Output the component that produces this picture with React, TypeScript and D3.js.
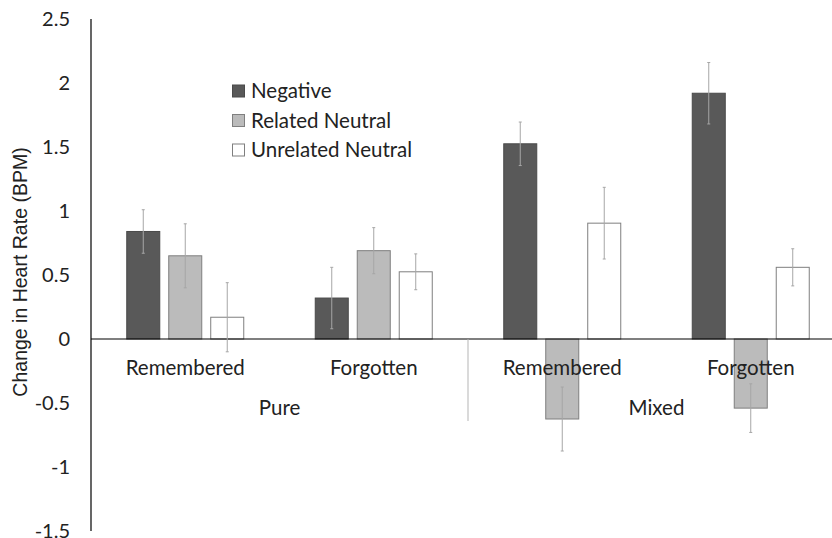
import React from "react";
import * as d3 from "d3";

const groups = ["Pure|Remembered", "Pure|Forgotten", "Mixed|Remembered", "Mixed|Forgotten"];
const groupLabels = ["Remembered", "Forgotten", "Remembered", "Forgotten"];
const superGroups = ["Pure", "Mixed"];
const series = ["Negative", "Related Neutral", "Unrelated Neutral"];
const negativeValues = [0.84, 0.32, 1.525, 1.92];
const relatedValues = [0.65, 0.69, -0.625, -0.54];
const unrelatedValues = [0.17, 0.525, 0.905, 0.56];
const negativeErr = [0.17, 0.24, 0.17, 0.24];
const relatedErr = [0.25, 0.18, 0.25, 0.19];
const unrelatedErr = [0.27, 0.14, 0.28, 0.145];
const yTicks = [2.5, 2, 1.5, 1, 0.5, 0, -0.5, -1, -1.5];

const fills = ["#595959", "#bbbbbb", "#ffffff"];
const strokes = ["#4a4a4a", "#7f7f7f", "#7f7f7f"];

export default function App() {
  const W = 832, H = 538;
  const y = d3.scaleLinear().domain([-1.5, 2.5]).range([531, 19]);
  const x = d3.scaleBand().domain(groups).range([91, 845]).paddingInner(0).paddingOuter(0);
  const inner = d3.scaleBand().domain(series).range([0, 118]).paddingInner(0.19).paddingOuter(0);
  const values = [negativeValues, relatedValues, unrelatedValues];
  const errs = [negativeErr, relatedErr, unrelatedErr];
  const font = "Lato, 'Open Sans', sans-serif";
  const fs = 20.5;
  const y0 = y(0);

  return (
    <svg width={W} height={H} style={{ position: "absolute", left: 0, top: 0, background: "#fff" }}>
      <rect x={0} y={0} width={W} height={H} fill="#fff" />
      {/* bars */}
      {groups.map((g, gi) => {
        const c = (x(g) as number) + x.bandwidth() / 2;
        const start = c - 59;
        return series.map((s, si) => {
          const v = values[si][gi];
          const bx = start + (inner(s) as number);
          const bw = inner.bandwidth();
          return (
            <rect key={g + s} x={bx + 0.5} y={Math.min(y(v), y0)} width={bw - 1} height={Math.abs(y(v) - y0)}
              fill={fills[si]} stroke={strokes[si]} strokeWidth={1} />
          );
        });
      })}
      {/* zero line */}
      <line x1={91} x2={845} y1={y0} y2={y0} stroke="#000" strokeWidth={1.2} />
      {/* separator */}
      <line x1={x(groups[2])} x2={x(groups[2])} y1={y0} y2={421} stroke="#b5b5b5" strokeWidth={1} />
      {/* error bars */}
      {groups.map((g, gi) => {
        const c = (x(g) as number) + x.bandwidth() / 2;
        const start = c - 59;
        return series.map((s, si) => {
          const v = values[si][gi];
          const e = errs[si][gi];
          const cx = start + (inner(s) as number) + inner.bandwidth() / 2;
          return (
            <g key={"e" + g + s} stroke="#a6a6a6" strokeWidth={1}>
              <line x1={cx} x2={cx} y1={y(v + e)} y2={y(v - e)} />
              <line x1={cx - 1.5} x2={cx + 1.5} y1={y(v + e)} y2={y(v + e)} />
              <line x1={cx - 1.5} x2={cx + 1.5} y1={y(v - e)} y2={y(v - e)} />
            </g>
          );
        });
      })}
      {/* y axis */}
      <line x1={91} x2={91} y1={y(2.5)} y2={y(-1.5)} stroke="#000" strokeWidth={1.2} />
      {yTicks.map((t) => (
        <text key={t} x={70} y={y(t)} dy="0.35em" textAnchor="end" fontFamily={font} fontSize={20} fill="#222">
          {String(t)}
        </text>
      ))}
      <text transform={`translate(20,272) rotate(-90)`} textAnchor="middle" dy="0.35em"
        fontFamily="'Liberation Sans', Arial, sans-serif" fontSize={19.5} fill="#222">
        Change in Heart Rate (BPM)
      </text>
      {/* category labels */}
      {groups.map((g, gi) => (
        <text key={"l" + g} x={(x(g) as number) + x.bandwidth() / 2} y={368} dy="0.35em" textAnchor="middle"
          fontFamily={font} fontSize={fs} fill="#222">
          {groupLabels[gi]}
        </text>
      ))}
      {superGroups.map((sg, i) => (
        <text key={sg} x={(x(groups[i * 2]) as number) + x.bandwidth()} y={408} dy="0.35em" textAnchor="middle"
          fontFamily={font} fontSize={fs} fill="#222">
          {sg}
        </text>
      ))}
      {/* legend */}
      {series.map((s, si) => (
        <g key={"lg" + s} transform={`translate(232,${91 + si * 29.5})`}>
          <rect x={0.5} y={-6} width={12} height={12} fill={fills[si]} stroke={strokes[si]} strokeWidth={1} />
          <text x={19} y={0} dy="0.35em" fontFamily={font} fontSize={fs} fill="#222">{s}</text>
        </g>
      ))}
    </svg>
  );
}
